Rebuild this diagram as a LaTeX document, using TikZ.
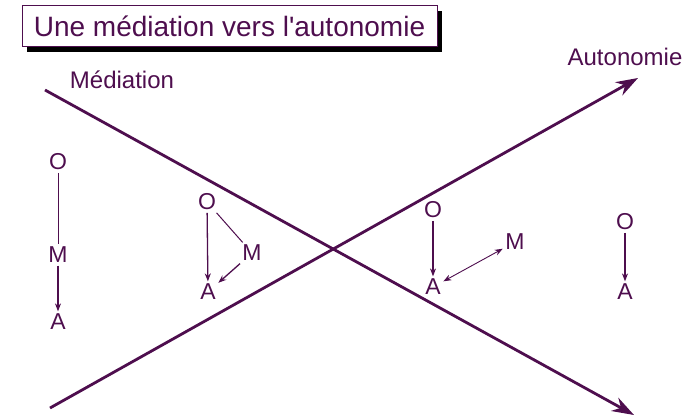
\documentclass[tikz,border=0pt]{standalone}
\usepackage{fontspec}
\setmainfont{Liberation Sans}[Ligatures=TeXOff]
\usetikzlibrary{arrows.meta}
\definecolor{pur}{RGB}{78,14,78}
\tikzset{
  lbl/.style={text=pur, font=\fontsize{23}{23}\selectfont, inner sep=2.5pt},
  big/.style={text=pur, font=\fontsize{24}{24}\selectfont, inner sep=0pt},
  mainln/.style={draw=pur, line width=2.8pt, -{Stealth[length=22pt,width=15pt]}},
  arr/.style={draw=pur, line width=1.3pt, -{Stealth[length=8pt,width=6pt]}},
  darr/.style={draw=pur, line width=0.9pt, {Stealth[length=8pt,width=6pt]}-{Stealth[length=8pt,width=6pt]}},
  plain/.style={draw=pur, line width=1pt},
}
\begin{document}
\begin{tikzpicture}[x=1pt,y=-1pt]
\useasboundingbox (0,0) rectangle (700,419);
% title
\fill[black] (27,11) rectangle (442,52);
\node[draw=pur, line width=1pt, fill=white, minimum width=415pt, minimum height=41pt, inner sep=0pt,
      text=pur, font=\fontsize{28}{28}\selectfont] (title) at (229.5,26.5) {Une médiation vers l'autonomie};
% main lines
\coordinate (m0) at (45,90);
\coordinate (m1) at (634,415);
\coordinate (a0) at (50,408);
\coordinate (a1) at (638,78);
\draw[mainln] (m0) -- (m1);
\draw[mainln] (a0) -- (a1);
\node[big] (med) at (122,80) {Médiation};
\node[big] (aut) at (625,57) {Autonomie};
% group 1
\node[lbl] (o1) at (58,162) {O};
\node[lbl] (n1) at (58,255) {M};
\node[lbl] (p1) at (58,322) {A};
\draw[plain] (o1) -- (n1);
\draw[arr] (n1) -- (p1);
% group 2
\node[lbl] (o2) at (207,202) {O};
\node[lbl] (n2) at (252,253) {M};
\node[lbl] (p2) at (208,292) {A};
\draw[arr] (o2) -- (p2);
\draw[plain] (o2) -- (n2);
\draw[arr] (n2) -- (p2);
% group 3
\node[lbl] (o3) at (433,210) {O};
\node[lbl] (n3) at (515,242) {M};
\node[lbl] (p3) at (433,287) {A};
\draw[arr] (o3) -- (p3);
\draw[darr] (n3) -- (p3);
% group 4
\node[lbl] (o4) at (625,222) {O};
\node[lbl] (p4) at (625,292) {A};
\draw[arr] (o4) -- (p4);
\end{tikzpicture}
\end{document}
